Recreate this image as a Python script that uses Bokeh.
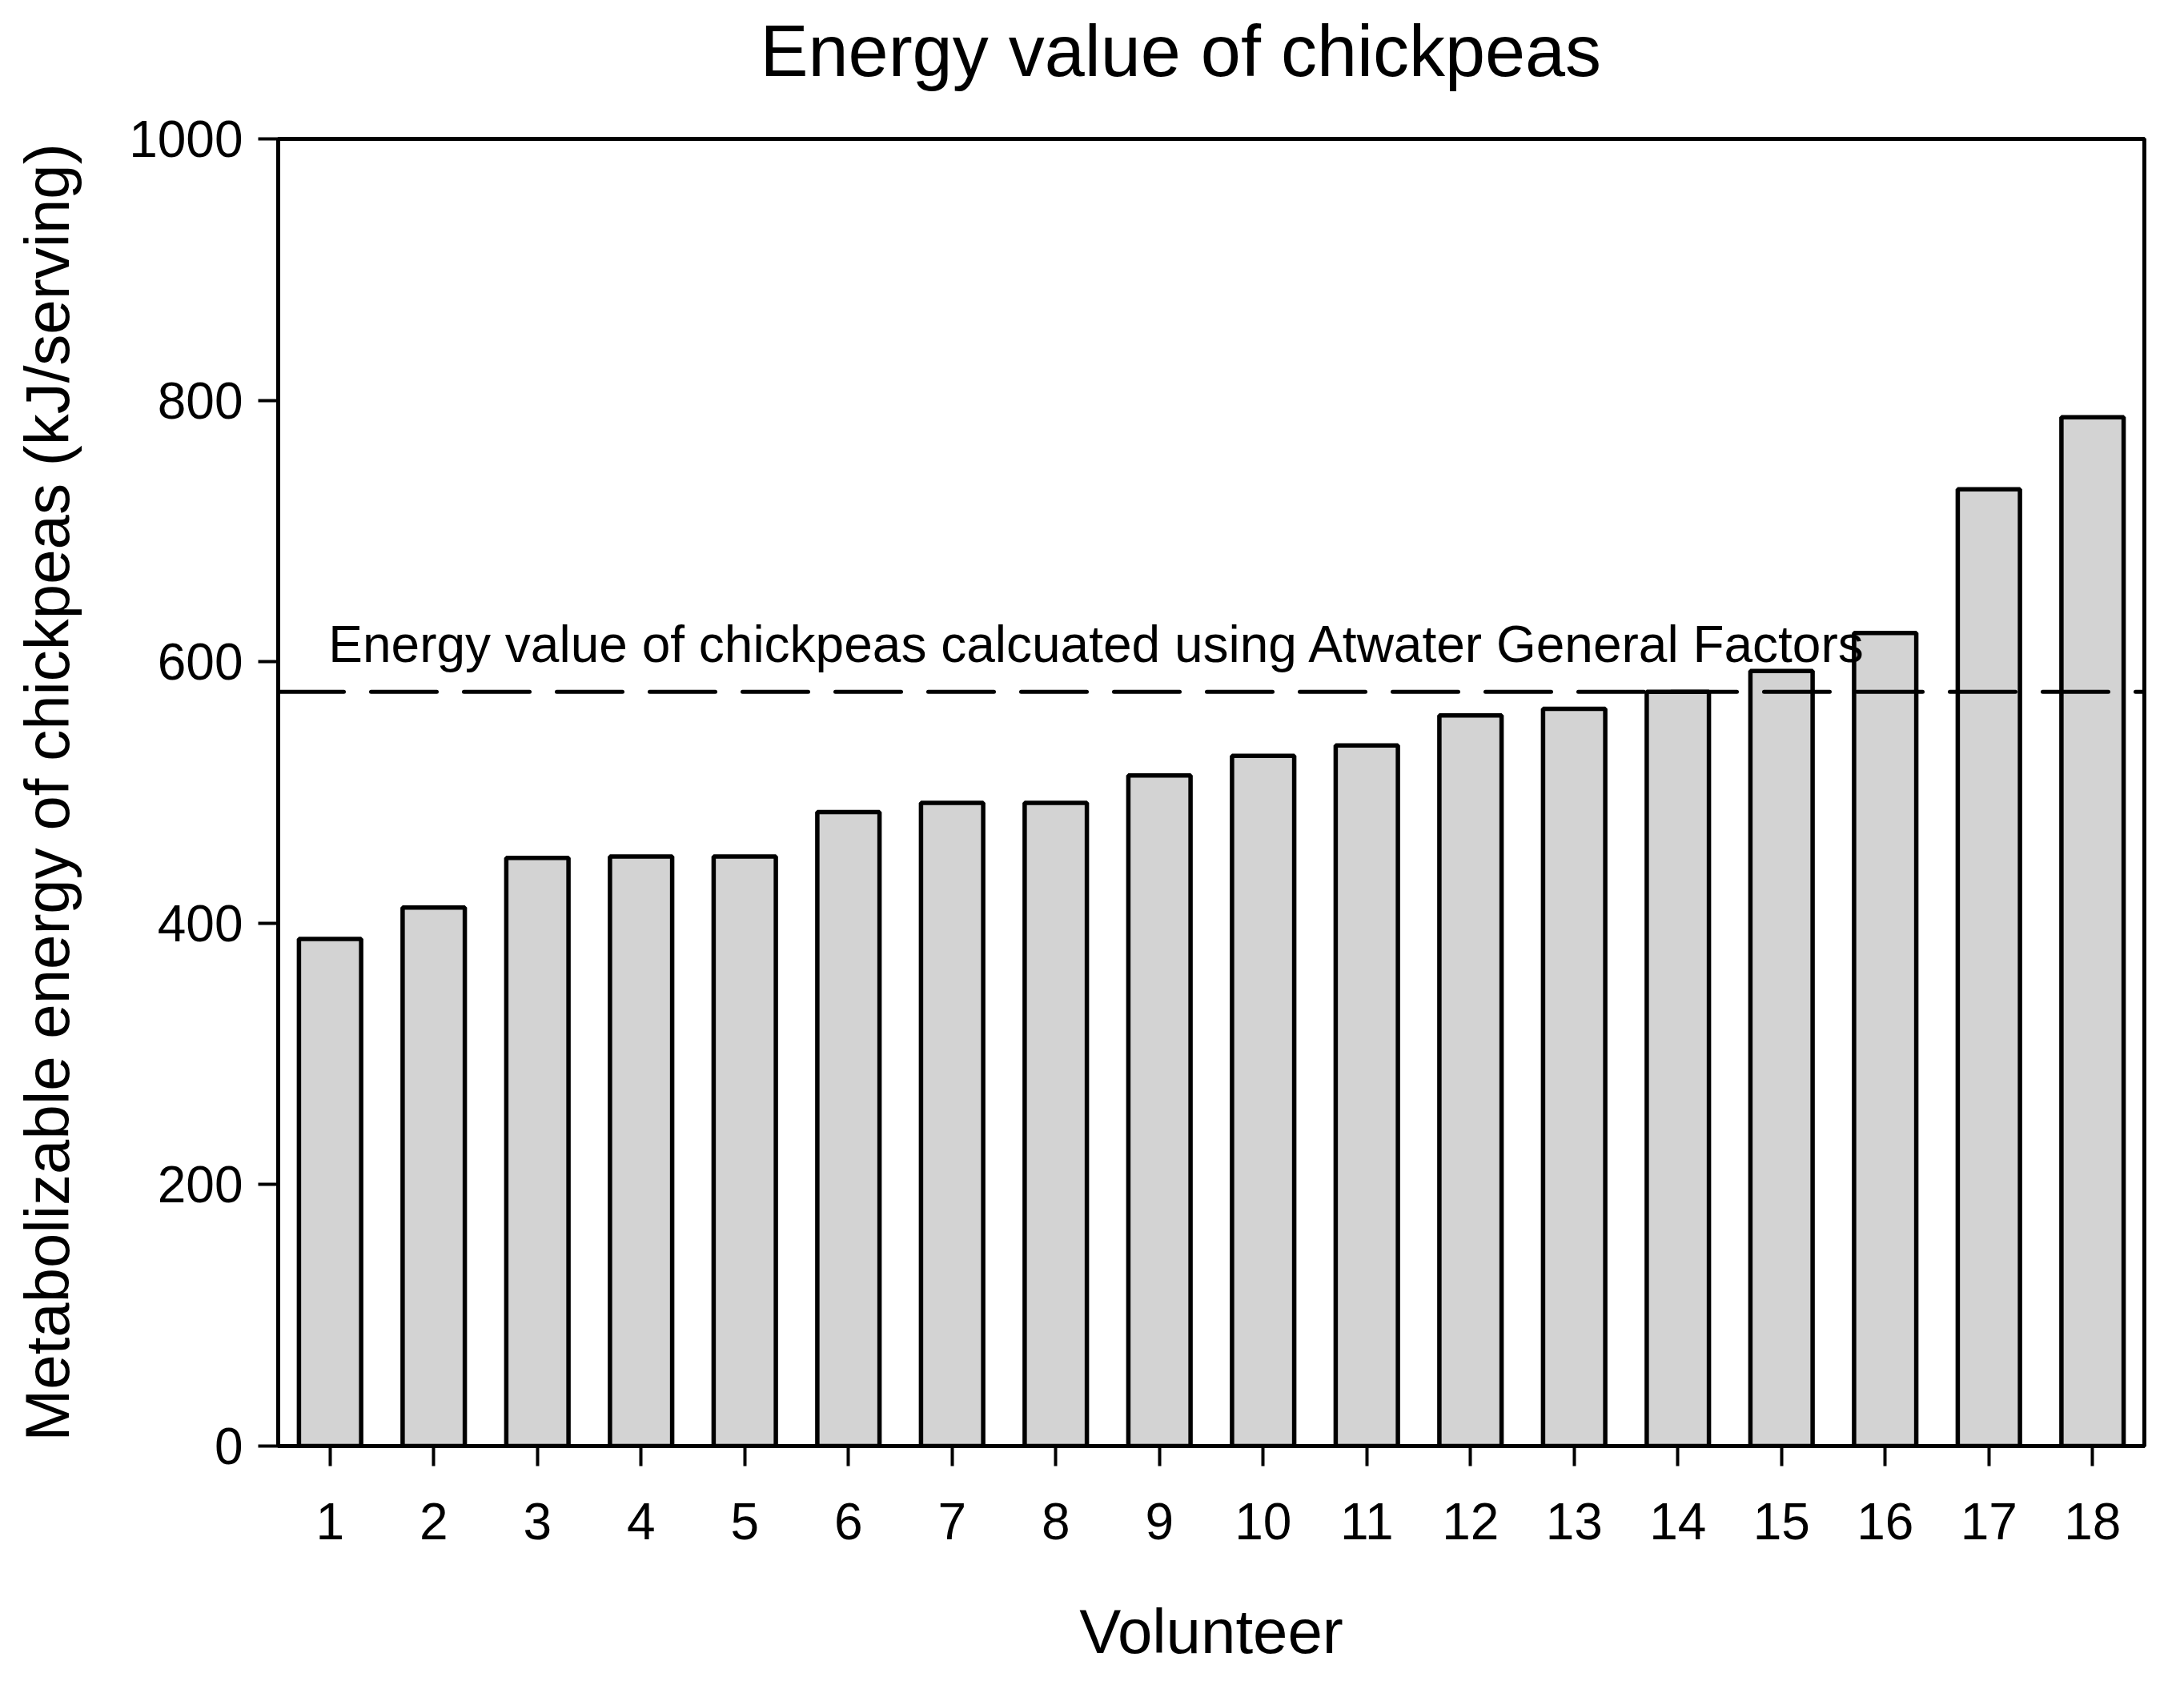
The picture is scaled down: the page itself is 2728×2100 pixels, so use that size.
from bokeh.plotting import figure
from bokeh.models import ColumnDataSource, FixedTicker, Span, Label, Range1d
from bokeh.embed import file_html
from bokeh.resources import INLINE

# ---- data ----
volunteers = list(range(1, 19))
energy = [388, 412, 450, 451, 451, 485, 492, 492, 513, 528, 536, 559, 564, 577, 593, 622, 732, 787]
atwater_value = 577
y_ticks = [0, 200, 400, 600, 800, 1000]
title_text = "Energy value of chickpeas"
x_label = "Volunteer"
y_label = "Metabolizable energy of chickpeas (kJ/serving)"
note_text = "Energy value of chickpeas calcuated using Atwater General Factors"

FONT = "Liberation Sans"

src = ColumnDataSource(dict(x=volunteers, top=energy))

p = figure(width=2712, height=2084, output_backend="svg", toolbar_location=None,
           x_range=Range1d(0.5, 18.5), y_range=Range1d(0, 1000),
           min_border_left=347, min_border_right=34, min_border_top=173, min_border_bottom=276,
           background_fill_color="white", border_fill_color="white")

p.vbar(x="x", top="top", bottom=0, width=0.6, source=src,
       fill_color="#d3d3d3", line_color="black", line_width=5.5)

p.add_layout(Span(location=atwater_value, dimension="width", line_color="black",
                  line_width=5, line_dash="82 34", line_cap="round"))

p.add_layout(Label(x=0.985, y=613, text=note_text, text_font=FONT, text_font_size="64px",
                   text_color="black", text_align="left", text_baseline="alphabetic"))

xa = p.below[0]
ya = p.left[0]

# title
p.title.text = title_text
p.title.text_font = FONT
p.title.text_font_size = "90px"
p.title.text_font_style = "normal"
p.title.text_color = "black"
p.title.align = "left"
p.title.offset = 602
p.title.standoff = 4
p.title.padding = dict(left=0, right=0, top=0, bottom=58)

p.grid.visible = False
p.outline_line_color = "black"
p.outline_line_width = 5
p.outline_line_alpha = 1

for ax in (xa, ya):
    ax.axis_line_width = 5
    ax.axis_line_color = "black"
    ax.major_tick_line_width = 4
    ax.major_tick_line_color = "black"
    ax.major_tick_out = 25
    ax.major_tick_in = 0
    ax.minor_tick_line_color = None
    ax.major_label_text_font = FONT
    ax.major_label_text_font_size = "64px"
    ax.major_label_text_color = "black"
    ax.axis_label_text_font = FONT
    ax.axis_label_text_font_size = "78px"
    ax.axis_label_text_font_style = "normal"
    ax.axis_label_text_color = "black"

xa.ticker = FixedTicker(ticks=volunteers)
xa.axis_label = x_label
xa.major_label_standoff = 46
xa.axis_label_standoff = 68

ya.ticker = FixedTicker(ticks=y_ticks)
ya.axis_label = y_label
ya.major_label_standoff = 19
ya.axis_label_standoff = 55

open("out.html", "w").write(file_html(p, INLINE))
